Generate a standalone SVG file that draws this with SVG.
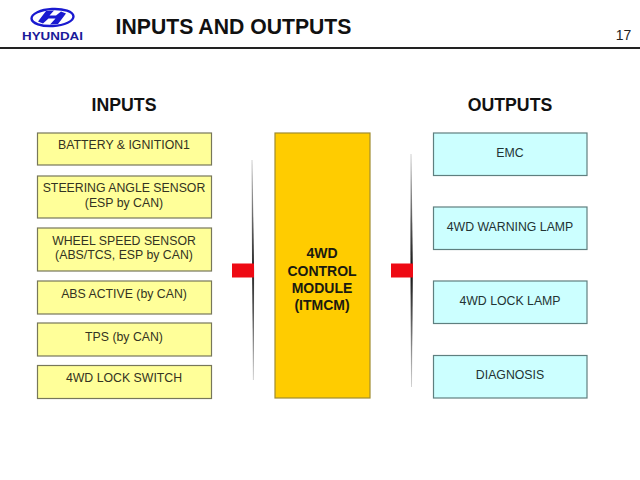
<svg xmlns="http://www.w3.org/2000/svg" width="640" height="480" viewBox="0 0 640 480">
<style>
text{font-family:"Liberation Sans",Arial,sans-serif;text-anchor:middle}
.in{fill:#ffff99;stroke:#77775a;stroke-width:1.2}
.out{fill:#ccffff;stroke:#5f7f7f;stroke-width:1.2}
.t{font-size:12.3px;fill:#333322}
.o{font-size:12.300px;fill:#223333}
.h{font-size:17.700px;font-weight:bold;fill:#111}
.m{font-size:14px;font-weight:bold;fill:#1a1a10}
.bar{fill:#ee0a14}
</style>
<defs>
<linearGradient id="fade" x1="0" y1="0" x2="0" y2="1">
<stop offset="0" stop-color="#999" stop-opacity=".3"/><stop offset=".3" stop-color="#555"/><stop offset=".5" stop-color="#111"/><stop offset=".7" stop-color="#555"/><stop offset="1" stop-color="#999" stop-opacity=".3"/>
</linearGradient>
</defs>
<rect width="640" height="480" fill="#fff"/>
<g id="logo">
<ellipse cx="52.500" cy="17.500" rx="21" ry="8.500" fill="none" stroke="#1a1ad0" stroke-width="2.400" transform="rotate(-3 52.500 17.500)"/>
<path d="M46 11L38 21.500L43 23.500L48.500 18.500L55.500 18.500L50 24.500L58 24L66 13.500L61 11.500L56 15.500L49.500 15.500L54 10.500Z" fill="#1a1ad0"/>
<text x="52.500" y="39.500" font-size="10" font-weight="bold" fill="#1a1a9a" textLength="61" lengthAdjust="spacingAndGlyphs">HYUNDAI</text>
</g>
<g id="header">
<text x="233.500" y="34" font-size="21.200" font-weight="bold" fill="#111">INPUTS AND OUTPUTS</text>
<rect x="0" y="47" width="640" height="2" fill="#222"/>
<text x="623.500" y="40" font-size="14" fill="#222">17</text>
<text class="h" x="124" y="111">INPUTS</text>
<text class="h" x="510" y="111">OUTPUTS</text>
</g>
<g id="in1"><rect class="in" x="37.500" y="133" width="174" height="32"/><text class="t" x="124" y="149">BATTERY &amp; IGNITION1</text></g>
<g id="in2"><rect class="in" x="37.500" y="176" width="174" height="42"/><text class="t" x="124" y="192">STEERING ANGLE SENSOR</text><text class="t" x="124" y="207">(ESP by CAN)</text></g>
<g id="in3"><rect class="in" x="37.500" y="228" width="174" height="43"/><text class="t" x="124" y="245">WHEEL SPEED SENSOR</text><text class="t" x="124" y="259">(ABS/TCS, ESP by CAN)</text></g>
<g id="in4"><rect class="in" x="37.500" y="281" width="174" height="33"/><text class="t" x="124" y="298">ABS ACTIVE (by CAN)</text></g>
<g id="in5"><rect class="in" x="37.500" y="323" width="174" height="33"/><text class="t" x="124" y="341">TPS (by CAN)</text></g>
<g id="in6"><rect class="in" x="37.500" y="365.500" width="174" height="33"/><text class="t" x="124" y="382">4WD LOCK SWITCH</text></g>
<g id="module"><rect x="275" y="133" width="95" height="265" fill="#ffcc00" stroke="#a08c30" stroke-width="1.200"/>
<text class="m" x="322" y="258">4WD</text><text class="m" x="322" y="276">CONTROL</text><text class="m" x="322" y="293">MODULE</text><text class="m" x="322" y="310">(ITMCM)</text></g>
<g id="out1"><rect class="out" x="433.500" y="133" width="153.500" height="42.500"/><text class="o" x="510" y="157">EMC</text></g>
<g id="out2"><rect class="out" x="433.500" y="207" width="153.500" height="42.500"/><text class="o" x="510" y="231">4WD WARNING LAMP</text></g>
<g id="out3"><rect class="out" x="433.500" y="281" width="153.500" height="42.500"/><text class="o" x="510" y="305">4WD LOCK LAMP</text></g>
<g id="out4"><rect class="out" x="433.500" y="355.500" width="153.500" height="42.500"/><text class="o" x="510" y="379">DIAGNOSIS</text></g>
<g id="connectors">
<path d="M252 160Q254.500 270 253.400 380Q252.400 270 252 160Z" fill="url(#fade)" stroke="url(#fade)" stroke-width=".8"/>
<rect class="bar" x="232" y="263.500" width="22" height="14"/>
<path d="M411 154Q413.500 270 411.500 387Q410.500 270 411 154Z" fill="url(#fade)" stroke="url(#fade)" stroke-width=".8"/>
<rect class="bar" x="391" y="263.500" width="22" height="14"/>
</g>
</svg>
